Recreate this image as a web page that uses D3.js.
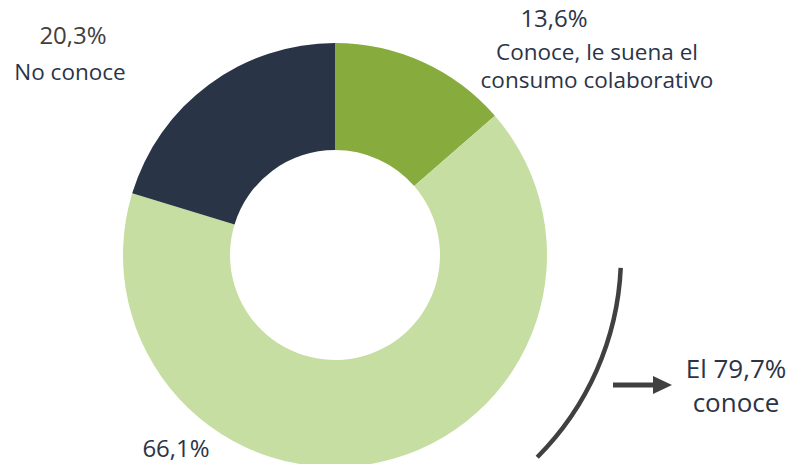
<!DOCTYPE html>
<html>
<head>
<meta charset="utf-8">
<script src="https://cdn.jsdelivr.net/npm/d3@7"></script>
<style>
  html, body { margin: 0; padding: 0; background: #ffffff; }
  svg { display: block; }
  text { font-family: "Open Sans", "Noto Sans", sans-serif; }
</style>
</head>
<body>
<svg id="chart" width="792" height="464"></svg>
<script>
// Awareness of collaborative consumption (share of respondents)
const categories = ["Conoce, le suena el consumo colaborativo", "Conoce", "No conoce"];
const values = [13.6, 66.1, 20.3];
const colors = ["#87ac3d", "#c6dea1", "#2a3447"];

const width = 792, height = 464;
const cx = 335, cy = 255;
const outerR = 212, innerR = 105;

const svg = d3.select("#chart");
const fmt = v => d3.format(".1f")(v).replace(".", ",") + "%";

const pie = d3.pie().sort(null).value(d => d.value);
const arcs = pie(categories.map((c, i) => ({ name: c, value: values[i], color: colors[i] })));
const arc = d3.arc().innerRadius(innerR).outerRadius(outerR);

const g = svg.append("g").attr("transform", `translate(${cx},${cy})`);
g.selectAll("path.slice")
  .data(arcs)
  .join("path")
  .attr("class", "slice")
  .attr("d", arc)
  .attr("fill", d => d.data.color);

// Labels
const textColor = "#2b3447";
const labels = [
  { lines: [fmt(values[0])], x: 554, y: 27, fill: textColor, size: 24 },
  { lines: ["Conoce, le suena el", "consumo colaborativo"], x: 597, y: 60, fill: textColor, step: 28, size: 22.5 },
  { lines: [fmt(values[2])], x: 73, y: 44, fill: "#404040", size: 24 },
  { lines: [categories[2]], x: 70, y: 80, fill: textColor, size: 22.5 },
  { lines: [fmt(values[1])], x: 176, y: 457, fill: textColor, size: 24 }
];
labels.forEach(l => {
  l.lines.forEach((line, i) => {
    svg.append("text")
      .attr("x", l.x)
      .attr("y", l.y + i * (l.step || 0))
      .attr("text-anchor", "middle")
      .attr("font-size", l.size)
      .attr("fill", l.fill)
      .text(line);
  });
});

// Bracket arc spanning the "knows" slices
const bracketR = 286;
const toStd = deg => (deg - 90) * Math.PI / 180;
const p = d3.path();
p.arc(cx, cy, bracketR, toStd(92.6), toStd(135), false);
svg.append("path")
  .attr("d", p.toString())
  .attr("fill", "none")
  .attr("stroke", "#404040")
  .attr("stroke-width", 4.5);

// Arrow
svg.append("line")
  .attr("x1", 613).attr("y1", 385)
  .attr("x2", 655).attr("y2", 385)
  .attr("stroke", "#404040")
  .attr("stroke-width", 5);
svg.append("path")
  .attr("d", d3.line()([[653, 376], [672, 385], [653, 394]]) + "Z")
  .attr("fill", "#404040");

const knows = values[0] + values[1];
svg.append("text")
  .attr("x", 736).attr("y", 378)
  .attr("text-anchor", "middle")
  .attr("font-size", 26)
  .attr("fill", textColor)
  .text("El " + fmt(knows));
svg.append("text")
  .attr("x", 736).attr("y", 412)
  .attr("text-anchor", "middle")
  .attr("font-size", 26)
  .attr("fill", textColor)
  .text("conoce");
</script>
</body>
</html>
